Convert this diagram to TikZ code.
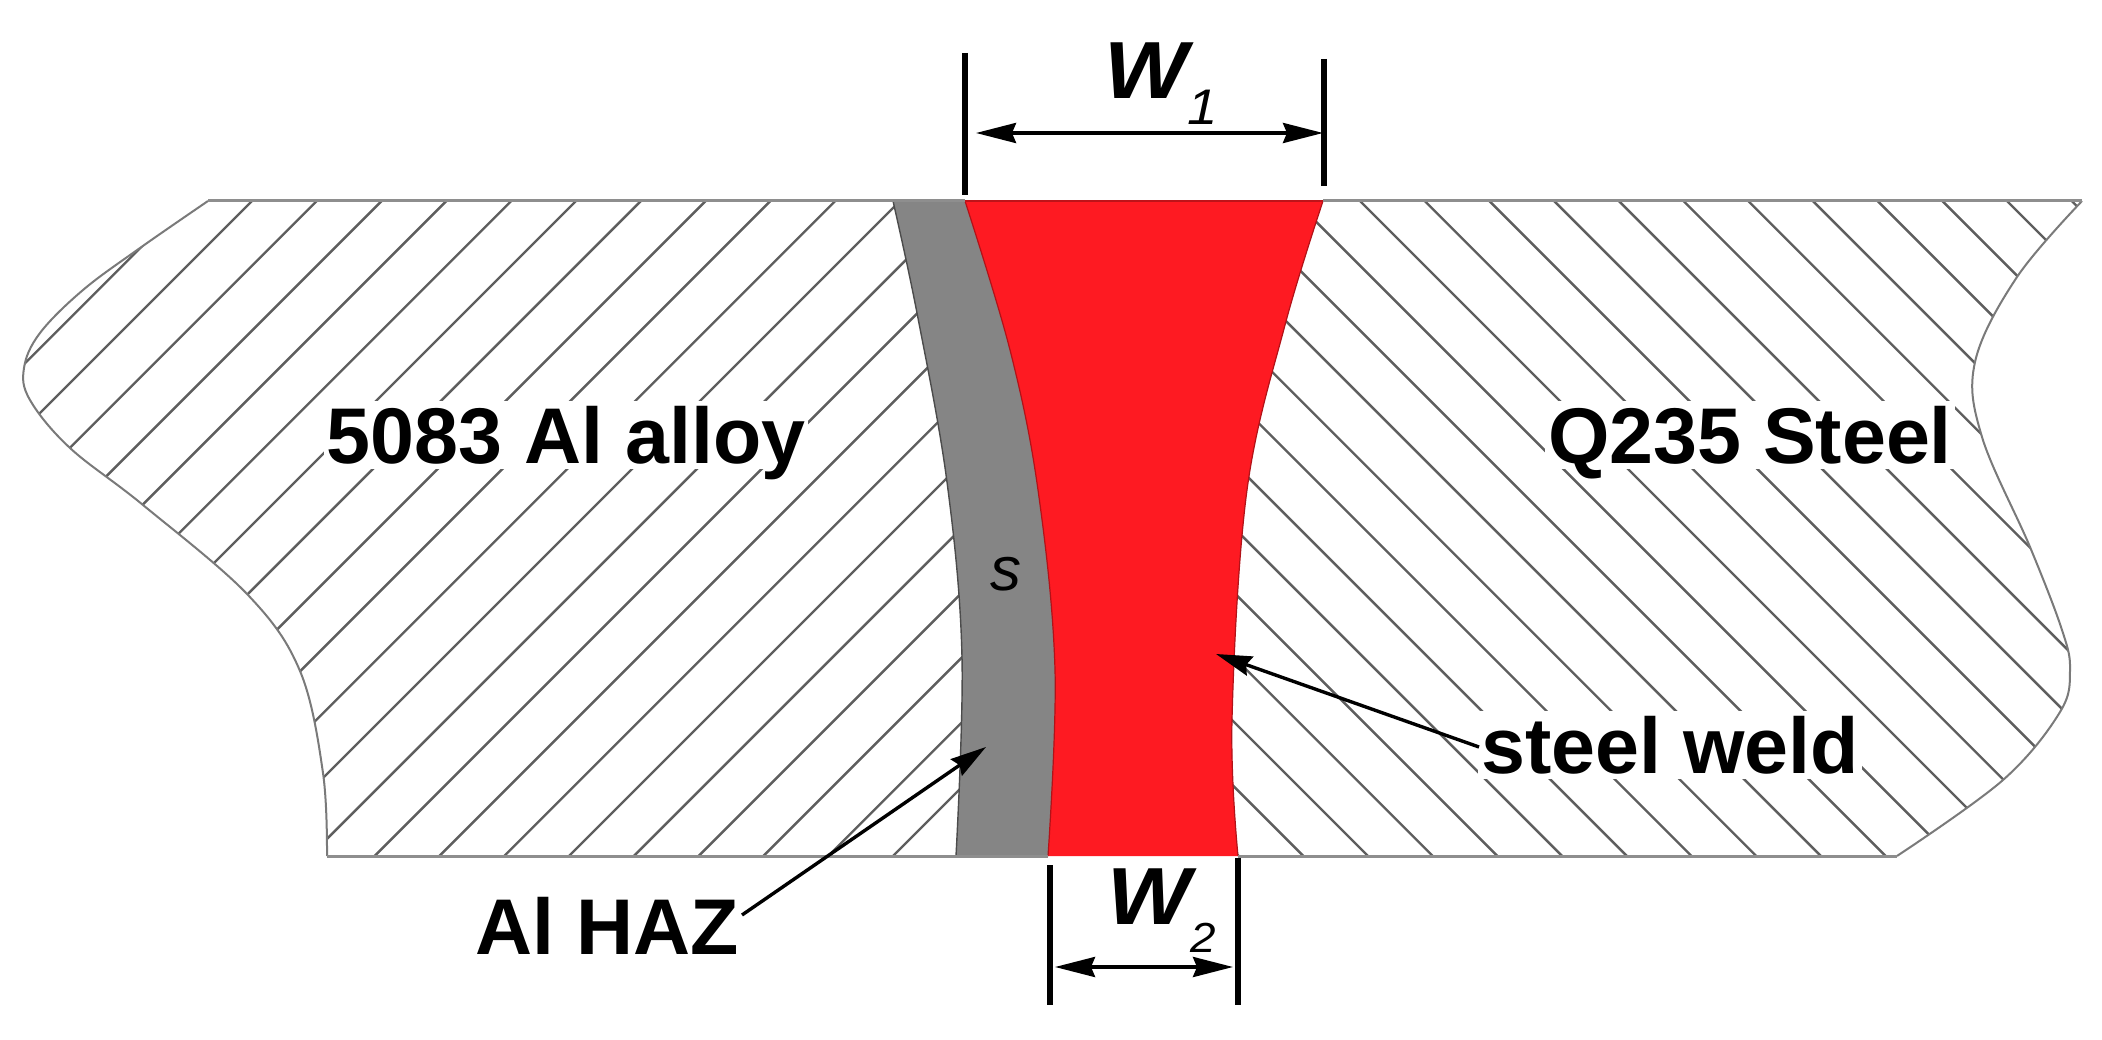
\documentclass[tikz,border=0pt]{standalone}
\usepackage{fontspec}
\setmainfont{Liberation Sans}
\usetikzlibrary{arrows.meta}
\definecolor{weldred}{HTML}{FE1A22}
\definecolor{hazgray}{HTML}{858585}
\definecolor{edgegray}{HTML}{7A7A7A}
\definecolor{hatchgray}{HTML}{5E5E5E}
\newcommand{\LeftOutline}{plot[smooth,tension=.6] coordinates {(327,856) (323,773) (300,671) (248,595) (143,505) (70,448) (30,400) (24,368) (40,333) (83,290) (140,248) (208,201)}}
\newcommand{\HazLeft}{plot[smooth,tension=.6] coordinates {(893,201) (917,313) (947,482) (962,657) (956,856)}}
\newcommand{\WeldLeft}{plot[smooth,tension=.6] coordinates {(965,201) (1010,350) (1038,490) (1055,670) (1048,856)}}
\newcommand{\WeldLeftUp}{plot[smooth,tension=.6] coordinates {(1048,856) (1055,670) (1038,490) (1010,350) (965,201)}}
\newcommand{\WeldRight}{plot[smooth,tension=.6] coordinates {(1238,856) (1232,720) (1247,490) (1285,325) (1323,201)}}
\newcommand{\RightOutline}{plot[smooth,tension=.6] coordinates {(2082,201) (2017,277) (1975,362) (1982,437) (2030,547) (2062,630) (2070,670) (2060,712) (2003,780) (1897,856)}}
\newcommand{\xpath}[2]{\edef\xpathtmp{\noexpand\path[#1] #2;}\xpathtmp}
\tikzset{
  x=1pt,y=-1pt,
  outline/.style={draw=edgegray,line width=2pt},
  hatchline/.style={draw=hatchgray,line width=2.4pt},
  boundline/.style={draw=edgegray!85,line width=3pt},
  tick/.style={draw=black,line width=6.5pt},
  dimarrow/.style={draw=black,line width=3.6pt,{Stealth[length=40pt,width=20pt,inset=4pt]}-{Stealth[length=40pt,width=20pt,inset=4pt]}},
  leader/.style={draw=black,line width=3.4pt,-{Stealth[length=36pt,width=20pt,inset=4pt]}},
  lab/.style={font=\fontsize{79}{79}\selectfont\bfseries,text=black,fill=white,inner ysep=0pt,inner xsep=3pt,anchor=base,text height=62pt,text depth=6pt},
  wlab/.style={font=\fontsize{81}{81}\selectfont\bfseries\itshape,text=black,inner sep=0pt,anchor=base west,xscale=1.09},
}
\begin{document}
\begin{tikzpicture}
\useasboundingbox (0,0) rectangle (2102,1040);
\fill[white] (0,0) rectangle (2102,1040);
% aluminium hatching
\begin{scope}
  \xpath{clip}{\HazLeft -- \LeftOutline -- cycle}
  \foreach \k in {-1,...,22}{
    \pgfmathsetmacro{\xa}{252+64.8*\k}
    \draw[hatchline] (\xa,201) -- ({\xa-700},{201+700});
  }
\end{scope}
% steel hatching
\begin{scope}
  \xpath{clip}{\WeldRight -- \RightOutline -- cycle}
  \foreach \k in {-12,...,11}{
    \pgfmathsetmacro{\xa}{1360+64.7*\k}
    \draw[hatchline] (\xa,201) -- ({\xa+700},{201+700});
  }
\end{scope}
% outlines
\xpath{outline}{\LeftOutline}
\xpath{outline}{\RightOutline}
% haz and weld
\xpath{fill=hazgray}{\HazLeft -- \WeldLeftUp -- cycle}
\xpath{fill=weldred}{\WeldLeft -- \WeldRight -- cycle}
\xpath{draw=black!70,line width=1.4pt}{\HazLeft}
\xpath{draw=weldred!70!black,line width=1.2pt}{\WeldLeft}
\xpath{draw=weldred!70!black,line width=1.2pt}{\WeldRight}
% top and bottom edges
\draw[boundline] (208,201) -- (965,201);
\draw[boundline] (1323,201) -- (2082,201);
\draw[weldred!75!black,line width=2.6pt] (965,201) -- (1323,201);
\draw[boundline] (327,856) -- (1048,856);
\draw[boundline] (1238,856) -- (1897,856);
% labels
\node[lab] (al) at (566,463) {5083 Al alloy};
\node[lab] (st) at (1750,463) {Q235 Steel};
\node[lab] (sw) at (1670,773) {steel weld};
\node[lab] (haz) at (607,954) {Al HAZ};
\node[font=\fontsize{62}{62}\selectfont\itshape,text=black,inner sep=0pt,anchor=base] (s) at (1006,590) {s};
\node[wlab] (w1) at (1104,99) {W\raisebox{-26pt}{\fontsize{50}{50}\selectfont\mdseries 1}};
\node[wlab] (w2) at (1107,924) {W\raisebox{-28pt}{\fontsize{42}{42}\selectfont\mdseries 2}};
% dimension ticks and arrows
\coordinate (t1a) at (965,53);
\coordinate (t1b) at (965,195);
\coordinate (t2a) at (1324,59);
\coordinate (t2b) at (1324,186);
\coordinate (t3a) at (1050,865);
\coordinate (t3b) at (1050,1005);
\coordinate (t4a) at (1238,858);
\coordinate (t4b) at (1238,1005);
\draw[tick] (t1a) -- (t1b);
\draw[tick] (t2a) -- (t2b);
\draw[tick] (t3a) -- (t3b);
\draw[tick] (t4a) -- (t4b);
\coordinate (d1a) at (976,133);
\coordinate (d1b) at (1323,133);
\coordinate (d2a) at (1055,967);
\coordinate (d2b) at (1233,967);
\draw[dimarrow] (d1a) -- (d1b);
\draw[dimarrow] (d2a) -- (d2b);
% leaders
\coordinate (hazfrom) at (742,915);
\coordinate (haztip) at (986,747);
\coordinate (swfrom) at (1479,747);
\coordinate (swtip) at (1216,654);
\draw[leader] (hazfrom) -- (haztip);
\draw[leader] (swfrom) -- (swtip);
\end{tikzpicture}
\end{document}
